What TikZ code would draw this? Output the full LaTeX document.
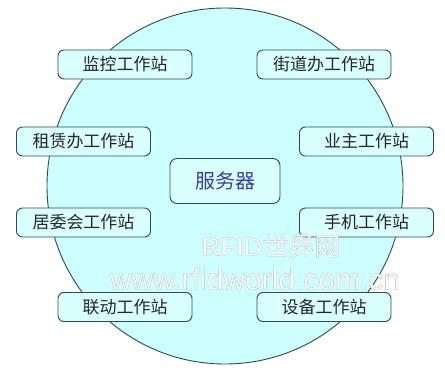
\documentclass[tikz,border=0pt]{standalone}
\usepackage{fontspec}
\newfontfamily\cjk{Noto Sans CJK SC}
\newfontfamily\wmlat[FakeBold=1.2]{Liberation Sans}
\newfontfamily\wmcjk[FakeBold=1.2]{Noto Sans CJK SC}
\setmainfont{Liberation Sans}
\definecolor{bgcyan}{HTML}{CCFFFF}
\definecolor{boxcyan}{HTML}{D9FFFF}
\definecolor{edge}{HTML}{2E4A4A}
\definecolor{srvtext}{HTML}{3A3F9A}
\newcommand{\graystroke}{\special{pdf:literal direct 0.72 G}}
\begin{document}
\begin{tikzpicture}[x=1pt,y=-1pt,
  station/.style={draw=edge, line width=0.9pt, fill=boxcyan, rounded corners=6pt,
    minimum width=134pt, minimum height=29pt, inner sep=0pt,
    font=\cjk\fontsize{17}{17}\selectfont, text=black!85},
  server/.style={draw=edge, line width=0.9pt, fill=boxcyan, rounded corners=7pt,
    minimum width=110pt, minimum height=45pt, inner sep=0pt,
    font=\cjk\fontsize{20}{20}\selectfont, text=srvtext},
  mark1/.style={text=white, font=\wmlat\fontsize{26}{26}\selectfont, inner sep=0pt},
  mark2/.style={text=white, font=\wmlat\fontsize{30}{30}\selectfont, inner sep=0pt}]
\useasboundingbox (0,0) rectangle (445,372);
\fill[white] (0,0) rectangle (445,372);
\draw[draw=edge, line width=0.9pt, fill=bgcyan] (225,186) circle[radius=178];
\node[server] (srv) at (225,181) {服务器};
\node[station] (jk) at (125,64.5) {监控工作站};
\node[station] (jd) at (324,64.5) {街道办工作站};
\node[station] (zl) at (83.5,141.5) {租赁办工作站};
\node[station] (yz) at (366.5,141.5) {业主工作站};
\node[station] (jw) at (83.5,222.5) {居委会工作站};
\node[station] (sj) at (366.5,222.5) {手机工作站};
\node[station] (ld) at (125,307) {联动工作站};
\node[station] (sb) at (324,307) {设备工作站};
\node[mark1] (wm1) at (271,246) {\graystroke RFID{\wmcjk\fontsize{26}{26}\selectfont\graystroke 世界网}};
\node[mark2] (wm2) at (255,279) {\graystroke www.rfidworld.com.cn};
\end{tikzpicture}
\end{document}
